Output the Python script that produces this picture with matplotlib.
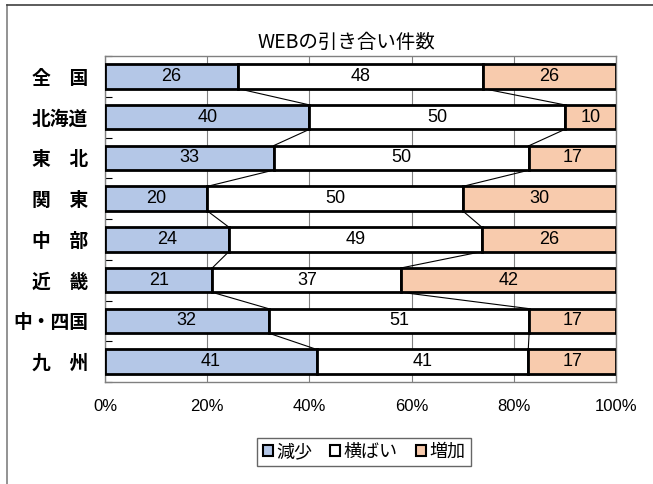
import matplotlib
matplotlib.use("Agg")
import matplotlib.pyplot as plt
import numpy as np
from matplotlib.patches import Patch
from matplotlib.lines import Line2D

plt.rcParams['font.family'] = ['Noto Sans CJK JP', 'DejaVu Sans']

categories = ["全　国", "北海道", "東　北", "関　東", "中　部", "近　畿", "中・四国", "九　州"]
decrease = [26, 40, 33, 20, 24, 21, 32, 41]
flat = [48, 50, 50, 50, 49, 37, 51, 41]
increase = [26, 10, 17, 30, 26, 42, 17, 17]
series_names = ["減少", "横ばい", "増加"]
colors = ["#B4C7E7", "#FFFFFF", "#F8CBAD"]
xticklabels = ["0%", "20%", "40%", "60%", "80%", "100%"]
title = "WEBの引き合い件数"

num_font = ['Liberation Sans', 'DejaVu Sans']

data = np.array([decrease, flat, increase], dtype=float)
totals = data.sum(axis=0)
frac = data / totals

fig = plt.figure(figsize=(6.53, 4.84), dpi=100)
ax = fig.add_axes([105/653, 1-382/484, 511/653, 326/484])

n = len(categories)
y = np.arange(n)
h = 0.6
left = np.zeros(n)
for k in range(3):
    ax.barh(y, frac[k], left=left, height=h, color=colors[k], edgecolor='black',
            linewidth=2, zorder=3)
    for i in range(n):
        ax.text(left[i] + frac[k][i] / 2, y[i], f"{int(data[k][i])}", ha='center',
                va='center', fontsize=13, family=num_font, zorder=4)
    left = left + frac[k]

# series lines
cum = np.cumsum(frac, axis=0)
for k in range(2):
    for i in range(n - 1):
        ax.plot([cum[k][i], cum[k][i + 1]], [y[i] + h / 2, y[i + 1] - h / 2],
                color='black', linewidth=0.8, zorder=2)

ax.set_xlim(0, 1)
ax.set_ylim(n - 0.5, -0.5)
ax.set_xticks(np.linspace(0, 1, 6))
ax.set_xticklabels(xticklabels, fontsize=12, family=num_font)
ax.tick_params(axis='x', length=0, pad=12)
ax.set_yticks(y)
ax.set_yticklabels(categories, fontsize=13.5, fontweight='bold')
ax.tick_params(axis='y', length=0, pad=12)
# minor ticks at category boundaries
ax.set_yticks(np.arange(n + 1) - 0.5, minor=True)
ax.tick_params(axis='y', which='minor', direction='in', length=5, color='black', width=0.8)
ax.grid(axis='x', color='#808080', linewidth=0.8, zorder=0)
for s in ax.spines.values():
    s.set_color('#808080')
    s.set_linewidth(1)

fig.text(346/653, 1-42/484, title, ha='center', va='center', fontsize=14)

handles = [Patch(facecolor=c, edgecolor='black', linewidth=1.5) for c in colors]
leg = fig.legend(handles, series_names, loc='center', bbox_to_anchor=(364/653, 1-452/484),
                 ncol=3, fontsize=13, frameon=True, fancybox=False, edgecolor='#404040',
                 handlelength=0.55, handleheight=0.55, handletextpad=0.2, columnspacing=1.0,
                 borderpad=0.3)
leg.get_frame().set_linewidth(1)

# figure border (left and top visible)
fig.add_artist(Line2D([7/653, 7/653], [0, 1-5/484], transform=fig.transFigure, color='#808080', linewidth=1.2))
fig.add_artist(Line2D([7/653, 1], [1-5/484, 1-5/484], transform=fig.transFigure, color='#404040', linewidth=1.2))

fig.savefig("out.png", dpi=100)
